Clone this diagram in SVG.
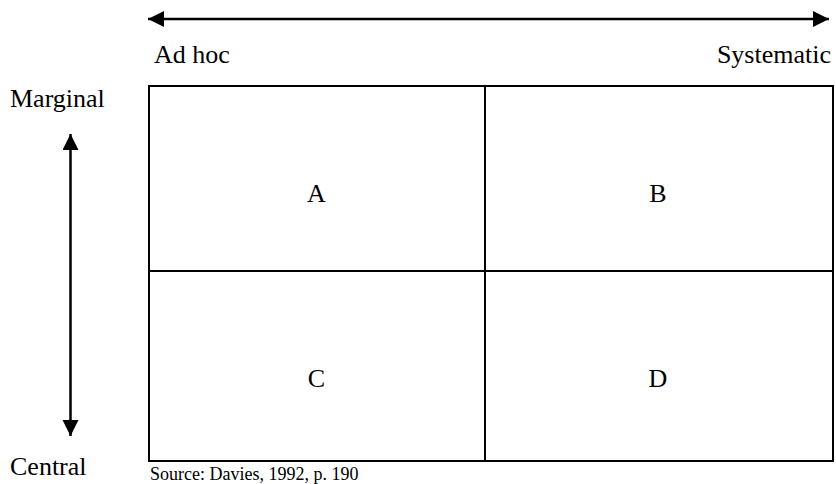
<svg xmlns="http://www.w3.org/2000/svg" width="836" height="484" viewBox="0 0 836 484">
  <style>
    .t { font-family: "Liberation Serif", "Times New Roman", serif; font-size: 26px; fill: #000; }
    .s { font-family: "Liberation Serif", "Times New Roman", serif; font-size: 18px; fill: #000; }
    .ln { stroke: #000; stroke-width: 2.5; fill: none; }
    .bx { stroke: #000; stroke-width: 2; fill: #fff; }
  </style>
  <defs>
    <marker id="ah" markerUnits="userSpaceOnUse" markerWidth="18" markerHeight="18" refX="16" refY="8" orient="auto-start-reverse">
      <path d="M0,0 L16,8 L0,16 Z" fill="#000"/>
    </marker>
  </defs>
  <rect width="836" height="484" fill="#fff"/>
  <g id="connectors">
    <line class="ln" x1="148" y1="19" x2="829" y2="19" marker-start="url(#ah)" marker-end="url(#ah)"/>
    <line class="ln" x1="70.5" y1="134" x2="70.5" y2="436" marker-start="url(#ah)" marker-end="url(#ah)"/>
  </g>
  <g id="labels">
    <text class="t" x="154" y="63">Ad hoc</text>
    <text class="t" x="831" y="63" text-anchor="end">Systematic</text>
    <text class="t" x="10" y="107">Marginal</text>
    <text class="t" x="10" y="475">Central</text>
    <text class="s" x="150" y="480">Source: Davies, 1992, p. 190</text>
  </g>
  <g id="matrix">
    <rect class="bx" x="149" y="86" width="684" height="375"/>
    <line class="bx" x1="485" y1="86" x2="485" y2="461"/>
    <line class="bx" x1="149" y1="271" x2="833" y2="271"/>
  </g>
  <g id="A"><text class="t" x="316.5" y="202" text-anchor="middle">A</text></g>
  <g id="B"><text class="t" x="658" y="202" text-anchor="middle">B</text></g>
  <g id="C"><text class="t" x="316.5" y="387" text-anchor="middle">C</text></g>
  <g id="D"><text class="t" x="658" y="387" text-anchor="middle">D</text></g>
</svg>
